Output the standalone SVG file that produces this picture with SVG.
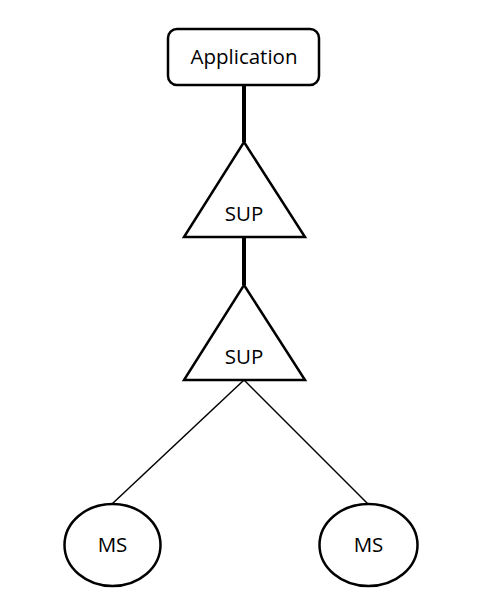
<svg xmlns="http://www.w3.org/2000/svg" width="480" height="606" viewBox="0 0 480 606">
<style>
.s{fill:#fff;stroke:#000;stroke-width:2.5}
.t{font-family:"Open Sans","Noto Sans",sans-serif;font-size:20.5px;fill:#000;text-anchor:middle}
.thick{stroke:#000;stroke-width:4;fill:none}
.thin{stroke:#000;stroke-width:1.5;fill:none}
</style>
<rect width="480" height="606" fill="#fff"/>
<g id="connectors">
<line class="thick" x1="244" y1="85" x2="244" y2="142"/>
<line class="thick" x1="244" y1="237" x2="244" y2="285"/>
<line class="thin" x1="244" y1="380" x2="112" y2="504"/>
<line class="thin" x1="244" y1="380" x2="368" y2="504"/>
</g>
<g id="application">
<rect class="s" x="168" y="29" width="151" height="56" rx="9"/>
<text class="t" x="244" y="64">Application</text>
</g>
<g id="sup1">
<polygon class="s" points="244,142 305,237 184,237"/>
<text class="t" x="244" y="221">SUP</text>
</g>
<g id="sup2">
<polygon class="s" points="244,285 305,380 184,380"/>
<text class="t" x="244" y="364">SUP</text>
</g>
<g id="ms1">
<ellipse class="s" cx="112.5" cy="545" rx="48" ry="41"/>
<text class="t" x="112.5" y="552">MS</text>
</g>
<g id="ms2">
<ellipse class="s" cx="368.5" cy="545" rx="49" ry="41"/>
<text class="t" x="368.5" y="552">MS</text>
</g>
</svg>
